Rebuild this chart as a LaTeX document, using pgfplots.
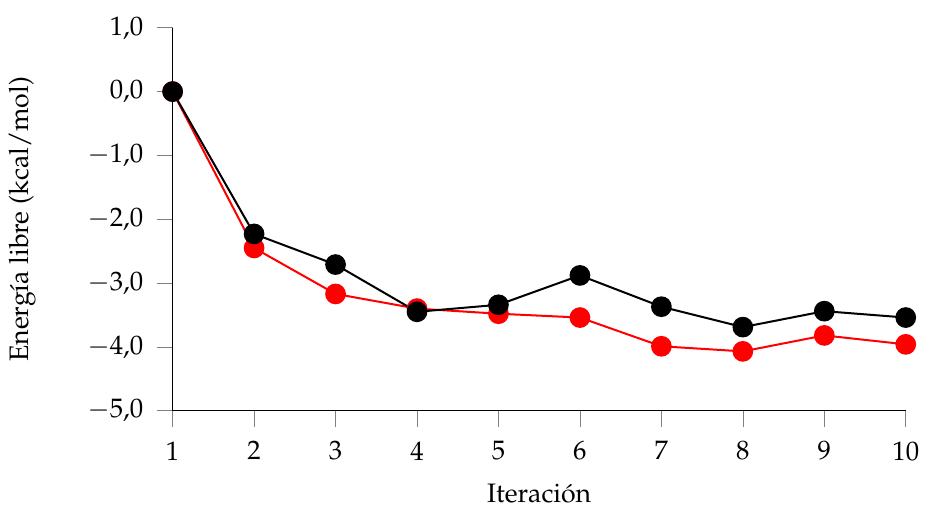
\documentclass[border=0pt]{standalone}
\usepackage[T1]{fontenc}
\usepackage{mathpazo}
\usepackage{pgfplots}
\pgfplotsset{compat=1.18}
\begin{document}
\begin{tikzpicture}
\begin{axis}[
  name=main,
  scale only axis,
  width=274.5pt, height=143.4pt,
  xmin=1, xmax=10, ymin=-5, ymax=1,
  axis lines=left,
  axis line style={-, line width=0.4pt},
  tick align=outside,
  major tick length=6pt,
  xtick={1,...,10},
  ytick={-5,-4,...,1},
  yticklabel style={xshift=-1.5pt, /pgf/number format/.cd, fixed, fixed zerofill, precision=1, use comma},
  xticklabel style={yshift=-2pt},
  xlabel={Iteraci\'on},
  xlabel style={yshift=-2pt},
  ylabel={Energ\'{\i}a libre (kcal/mol)},
  ylabel shift=12.5pt,
  clip=false,
]
\addplot[red, line width=0.75pt, mark=*, mark size=3.5pt, mark options={fill=red, draw=red}]
  coordinates {(1,0) (2,-2.45) (3,-3.17) (4,-3.40) (5,-3.48) (6,-3.54) (7,-3.99) (8,-4.07) (9,-3.82) (10,-3.96)};
\addplot[black, line width=0.75pt, mark=*, mark size=3.5pt, mark options={fill=black, draw=black}]
  coordinates {(1,0) (2,-2.23) (3,-2.71) (4,-3.45) (5,-3.34) (6,-2.88) (7,-3.37) (8,-3.69) (9,-3.44) (10,-3.54)};
\end{axis}
\path ([yshift=2.8pt]main.outer north) ;
\end{tikzpicture}
\end{document}
